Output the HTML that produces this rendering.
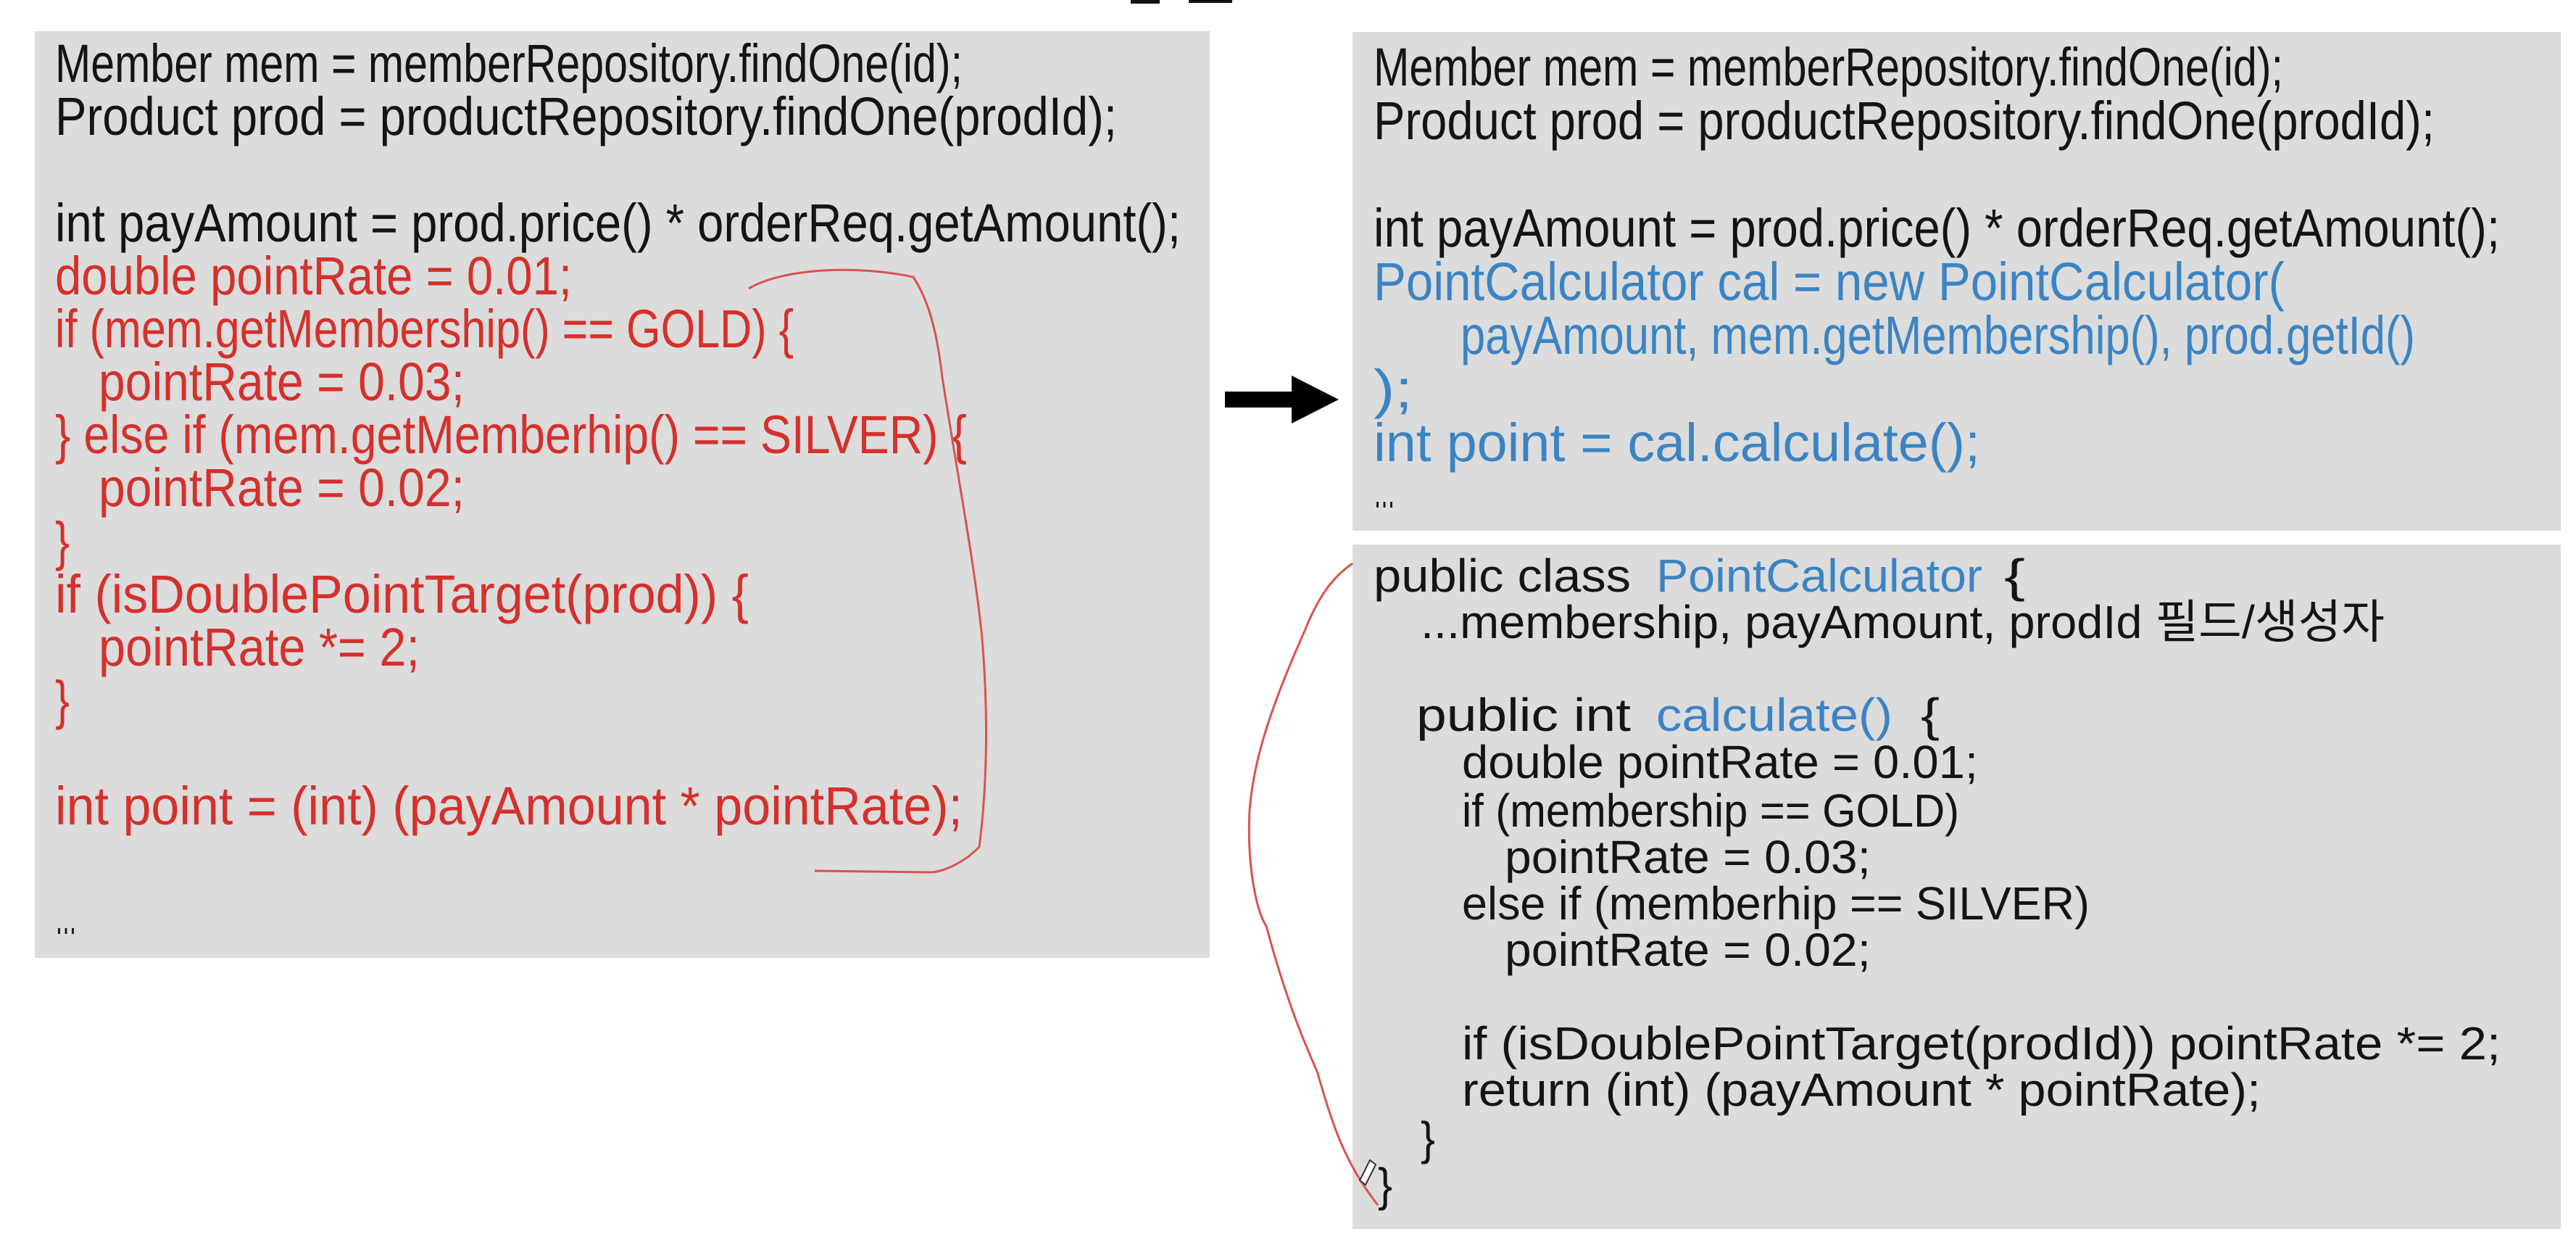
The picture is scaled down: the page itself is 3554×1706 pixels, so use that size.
<!DOCTYPE html>
<html><head><meta charset="utf-8"><style>
html,body{margin:0;padding:0;background:#fff;}
svg{display:block;}
text{font-family:"Liberation Sans","Noto Sans CJK KR",sans-serif;}
.k{fill:#141414;font-size:74px;}
.r{fill:#d5302b;font-size:74px;}
.b{fill:#3b84c4;font-size:74px;}
.k2{fill:#141414;font-size:64px;}
.b2{fill:#3b84c4;font-size:64px;}
</style></head><body>
<svg width="3554" height="1706" viewBox="0 0 3554 1706" xmlns="http://www.w3.org/2000/svg">
<rect x="0" y="0" width="3554" height="1706" fill="#fff"/>
<rect x="1560" y="0" width="40" height="5" fill="#111"/><rect x="1640" y="0" width="60" height="4" fill="#111"/>
<rect x="48" y="43" width="1621" height="1278" fill="#dcdcdc"/>
<rect x="1866" y="44" width="1667" height="688" fill="#dcdcdc"/>
<rect x="1866" y="751" width="1667" height="944" fill="#dcdcdc"/>

<!-- left -->
<text class="k" x="76" y="113" textLength="1252" lengthAdjust="spacingAndGlyphs">Member mem = memberRepository.findOne(id);</text>
<text class="k" x="76" y="186" textLength="1465" lengthAdjust="spacingAndGlyphs">Product prod = productRepository.findOne(prodId);</text>
<text class="k" x="76" y="333" textLength="1553" lengthAdjust="spacingAndGlyphs">int payAmount = prod.price() * orderReq.getAmount();</text>
<text class="r" x="76" y="406" textLength="713" lengthAdjust="spacingAndGlyphs">double pointRate = 0.01;</text>
<text class="r" x="76" y="479" textLength="1019" lengthAdjust="spacingAndGlyphs">if (mem.getMembership() == GOLD) {</text>
<text class="r" x="136" y="552" textLength="505" lengthAdjust="spacingAndGlyphs">pointRate = 0.03;</text>
<text class="r" x="76" y="625" textLength="1258" lengthAdjust="spacingAndGlyphs">} else if (mem.getMemberhip() == SILVER) {</text>
<text class="r" x="136" y="698" textLength="505" lengthAdjust="spacingAndGlyphs">pointRate = 0.02;</text>
<text class="r" x="76" y="772" textLength="20" lengthAdjust="spacingAndGlyphs">}</text>
<text class="r" x="76" y="845" textLength="957" lengthAdjust="spacingAndGlyphs">if (isDoublePointTarget(prod)) {</text>
<text class="r" x="136" y="918" textLength="443" lengthAdjust="spacingAndGlyphs">pointRate *= 2;</text>
<text class="r" x="76" y="991" textLength="20" lengthAdjust="spacingAndGlyphs">}</text>
<text class="r" x="76" y="1137" textLength="1252" lengthAdjust="spacingAndGlyphs">int point = (int) (payAmount * pointRate);</text>
<text class="k" x="76" y="1288" font-size="48" textLength="30" lengthAdjust="spacingAndGlyphs">…</text>

<!-- arrow -->
<polygon points="1690,540 1782,540 1782,518 1847,551 1782,584 1782,562 1690,562" fill="#000"/>

<!-- right top -->
<text class="k" x="1895" y="118" textLength="1255" lengthAdjust="spacingAndGlyphs">Member mem = memberRepository.findOne(id);</text>
<text class="k" x="1895" y="192" textLength="1464" lengthAdjust="spacingAndGlyphs">Product prod = productRepository.findOne(prodId);</text>
<text class="k" x="1895" y="340" textLength="1554" lengthAdjust="spacingAndGlyphs">int payAmount = prod.price() * orderReq.getAmount();</text>
<text class="b" x="1895" y="414" textLength="1257" lengthAdjust="spacingAndGlyphs">PointCalculator cal = new PointCalculator(</text>
<text class="b" x="2015" y="488" textLength="1317" lengthAdjust="spacingAndGlyphs">payAmount, mem.getMembership(), prod.getId()</text>
<text class="b" x="1895" y="562" textLength="54" lengthAdjust="spacingAndGlyphs">);</text>
<text class="b" x="1895" y="636" textLength="837" lengthAdjust="spacingAndGlyphs">int point = cal.calculate();</text>
<text class="k" x="1895" y="700" font-size="48" textLength="30" lengthAdjust="spacingAndGlyphs">…</text>

<!-- right bottom -->
<text class="k2" x="1895" y="816" textLength="355" lengthAdjust="spacingAndGlyphs">public class</text>
<text class="b2" x="2285" y="816" textLength="450" lengthAdjust="spacingAndGlyphs">PointCalculator</text>
<text class="k2" x="2765" y="816" textLength="29" lengthAdjust="spacingAndGlyphs">{</text>
<text class="k2" x="1960" y="880" textLength="1330" lengthAdjust="spacingAndGlyphs">...membership, payAmount, prodId 필드/생성자</text>
<text class="k2" x="1954" y="1008" textLength="296" lengthAdjust="spacingAndGlyphs">public int</text>
<text class="b2" x="2285" y="1008" textLength="326" lengthAdjust="spacingAndGlyphs">calculate()</text>
<text class="k2" x="2650" y="1008" textLength="26" lengthAdjust="spacingAndGlyphs">{</text>
<text class="k2" x="2017" y="1073" textLength="712" lengthAdjust="spacingAndGlyphs">double pointRate = 0.01;</text>
<text class="k2" x="2017" y="1140" textLength="686" lengthAdjust="spacingAndGlyphs">if (membership == GOLD)</text>
<text class="k2" x="2076" y="1204" textLength="505" lengthAdjust="spacingAndGlyphs">pointRate = 0.03;</text>
<text class="k2" x="2017" y="1268" textLength="866" lengthAdjust="spacingAndGlyphs">else if (memberhip == SILVER)</text>
<text class="k2" x="2076" y="1332" textLength="505" lengthAdjust="spacingAndGlyphs">pointRate = 0.02;</text>
<text class="k2" x="2017" y="1461" textLength="1433" lengthAdjust="spacingAndGlyphs">if (isDoublePointTarget(prodId)) pointRate *= 2;</text>
<text class="k2" x="2017" y="1525" textLength="1102" lengthAdjust="spacingAndGlyphs">return (int) (payAmount * pointRate);</text>
<text class="k2" x="1960" y="1592" textLength="20" lengthAdjust="spacingAndGlyphs">}</text>
<text class="k2" x="1901" y="1656" textLength="20" lengthAdjust="spacingAndGlyphs">}</text>

<!-- hand-drawn red strokes -->
<path d="M1033,398 C1080,370 1180,365 1260,382 C1285,420 1294,470 1300,520 C1320,650 1345,780 1355,880 C1365,1000 1360,1100 1351,1168 C1330,1190 1300,1203 1283,1203 L1124,1201" fill="none" stroke="#d9534f" stroke-width="3"/>
<path d="M1866,777 C1840,795 1820,820 1800,870 C1760,960 1730,1040 1724,1117 C1720,1200 1735,1260 1747,1277 C1780,1400 1810,1460 1818,1480 C1840,1560 1860,1610 1901,1662" fill="none" stroke="#d9534f" stroke-width="3"/>
<path d="M1876,1628 L1890,1600 L1898,1606 L1884,1634 Z" fill="#fff" stroke="#333" stroke-width="2"/>
</svg>
</body></html>
